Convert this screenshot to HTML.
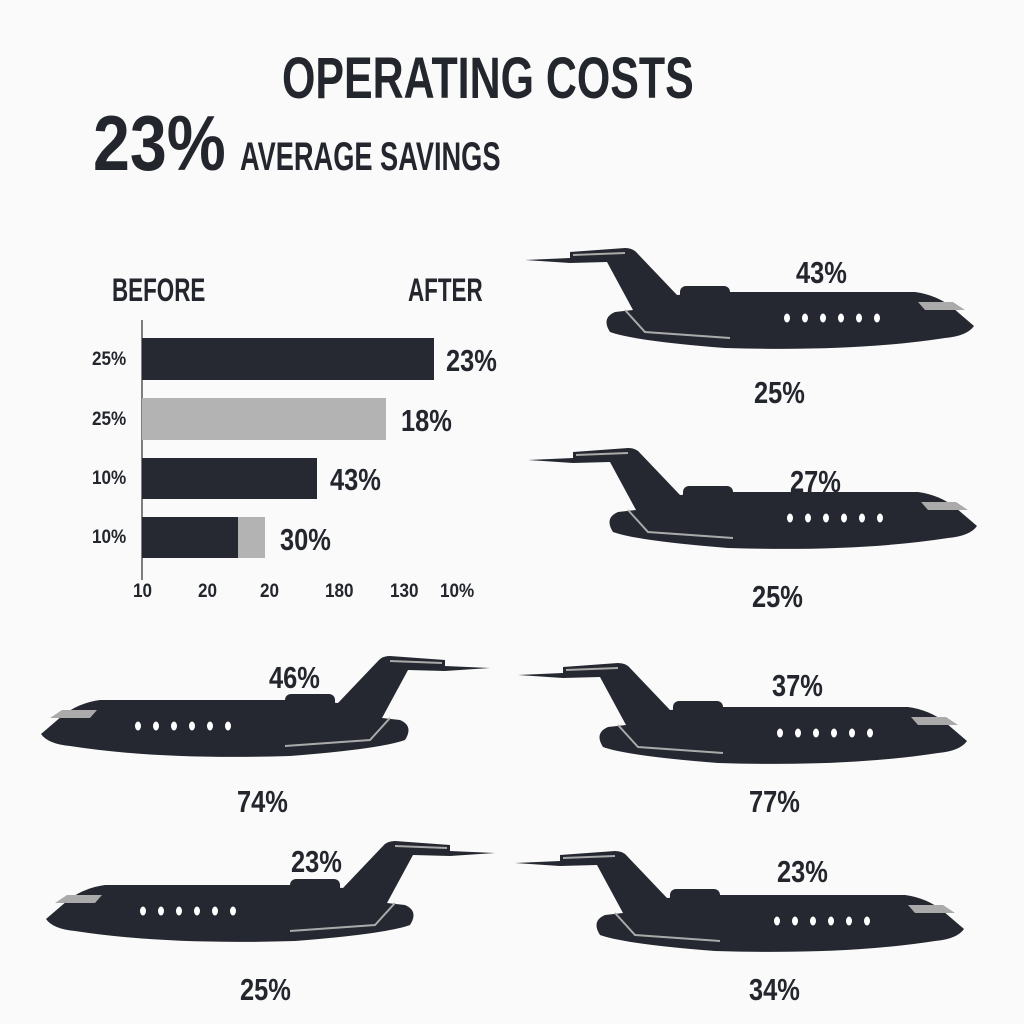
<!DOCTYPE html>
<html><head><meta charset="utf-8"><style>
html,body{margin:0;padding:0;background:#fafafa;}
body{width:1024px;height:1024px;position:relative;overflow:hidden;font-family:"Liberation Sans",sans-serif;color:#23262d;font-weight:bold;}
.t{position:absolute;white-space:nowrap;line-height:1;transform-origin:0 0;}
.bar{position:absolute;}
.d{background:#262932}.g{background:#b3b3b3}
.p{font-size:31px;transform:scaleX(0.82)}
.s{font-size:19px;transform:scaleX(0.9)}
svg{position:absolute;left:0;top:0}
</style></head><body>
<svg width="1024" height="1024">
<defs>
<g id="jet">
<path fill="#252830" d="M0,20 L45,18 L45,12 L100,8 Q108,8 112,13 L152,55 L200,52 L390,52 Q412,55 428,68 L449,86 Q442,96 420,98 Q330,112 200,108 Q110,101 85,92 Q76,78 90,72 L108,70 L82,22 L45,23 Z"/>
<rect x="155" y="46" width="50" height="26" rx="6" fill="#252830"/>
<path d="M48,15 L100,13" stroke="#aaa" stroke-width="2"/>
<path d="M100,70 L120,92 L205,98" stroke="#aaa" stroke-width="2" fill="none"/>
<path d="M393,62 L428,62 L440,70 L400,70 Z" fill="#aaa"/>
<g fill="#fff"><ellipse cx="262" cy="78" rx="3" ry="4.5"/><ellipse cx="280" cy="78" rx="3" ry="4.5"/><ellipse cx="298" cy="78" rx="3" ry="4.5"/><ellipse cx="316" cy="78" rx="3" ry="4.5"/><ellipse cx="334" cy="78" rx="3" ry="4.5"/><ellipse cx="352" cy="78" rx="3" ry="4.5"/></g>
</g>
</defs>
<use href="#jet" transform="translate(525,240)"/>
<use href="#jet" transform="translate(528,440)"/>
<use href="#jet" transform="translate(490,648) scale(-1,1)"/>
<use href="#jet" transform="translate(518,655)"/>
<use href="#jet" transform="translate(495,833) scale(-1,1)"/>
<use href="#jet" transform="translate(515,843)"/>
<line x1="142" y1="320" x2="142" y2="580" stroke="#555" stroke-width="1.5"/>
</svg>
<div class="t" style="left:282px;top:50px;font-size:58px;transform:scaleX(0.74)">OPERATING COSTS</div>
<div class="t" style="left:93px;top:104px;font-size:78px;transform:scaleX(0.85)">23%</div>
<div class="t" style="left:240px;top:137px;font-size:40px;transform:scaleX(0.68)">AVERAGE SAVINGS</div>
<div class="t" style="left:112px;top:274px;font-size:32px;transform:scaleX(0.7)">BEFORE</div>
<div class="t" style="left:408px;top:274px;font-size:32px;transform:scaleX(0.7)">AFTER</div>
<div class="bar d" style="left:142px;top:338px;width:292px;height:42px"></div>
<div class="bar g" style="left:142px;top:398px;width:244px;height:42px"></div>
<div class="bar d" style="left:142px;top:458px;width:175px;height:41px"></div>
<div class="bar d" style="left:142px;top:517px;width:96px;height:41px"></div>
<div class="bar g" style="left:238px;top:517px;width:27px;height:41px"></div>
<div class="t s" style="left:92px;top:350px">25%</div>
<div class="t s" style="left:92px;top:410px">25%</div>
<div class="t s" style="left:92px;top:469px">10%</div>
<div class="t s" style="left:92px;top:528px">10%</div>
<div class="t p" style="left:446px;top:345px">23%</div>
<div class="t p" style="left:401px;top:405px">18%</div>
<div class="t p" style="left:330px;top:464px">43%</div>
<div class="t p" style="left:280px;top:524px">30%</div>
<div class="t s" style="left:133px;top:582px">10</div>
<div class="t s" style="left:198px;top:582px">20</div>
<div class="t s" style="left:260px;top:582px">20</div>
<div class="t s" style="left:325px;top:582px">180</div>
<div class="t s" style="left:390px;top:582px">130</div>
<div class="t s" style="left:440px;top:582px">10%</div>
<div class="t p" style="left:796px;top:257px">43%</div>
<div class="t p" style="left:754px;top:377px">25%</div>
<div class="t p" style="left:790px;top:466px">27%</div>
<div class="t p" style="left:752px;top:581px">25%</div>
<div class="t p" style="left:269px;top:662px">46%</div>
<div class="t p" style="left:237px;top:786px">74%</div>
<div class="t p" style="left:772px;top:670px">37%</div>
<div class="t p" style="left:749px;top:786px">77%</div>
<div class="t p" style="left:291px;top:846px">23%</div>
<div class="t p" style="left:240px;top:974px">25%</div>
<div class="t p" style="left:777px;top:856px">23%</div>
<div class="t p" style="left:749px;top:974px">34%</div>
</body></html>
